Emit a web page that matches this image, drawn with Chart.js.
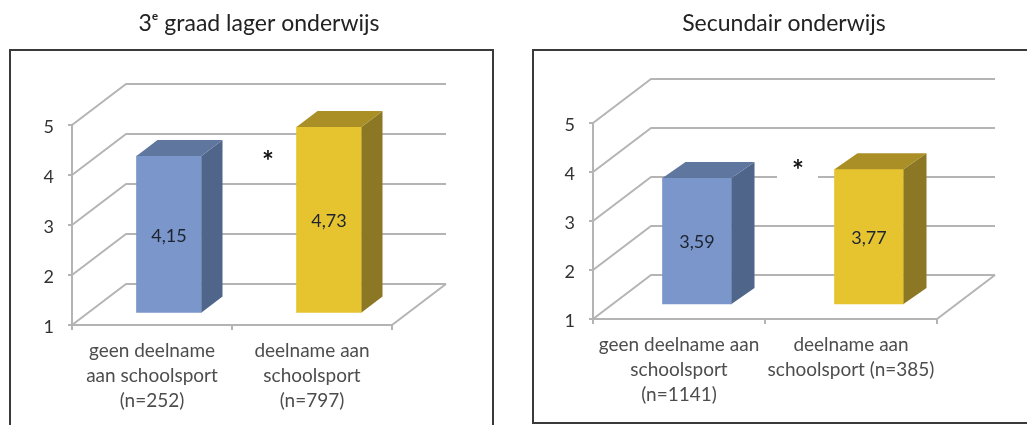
<!DOCTYPE html>
<html>
<head>
<meta charset="utf-8">
<title>Schoolsport</title>
<script src="https://cdn.jsdelivr.net/npm/chart.js@4"></script>
<style>
    html, body { margin: 0; padding: 0; background: #fff; overflow: hidden; width: 1027px; height: 425px; }
    canvas { position: absolute; top: 0; filter: blur(0.7px); }
    #chart_lager { left: 0; }
    #chart_secundair { left: 532px; }
</style>
</head>
<body>
<canvas id="chart_lager" width="518" height="425"></canvas>
<canvas id="chart_secundair" width="504" height="425"></canvas>
<script>
const titleLager = "3ᵉ graad lager onderwijs";
const titleSecundair = "Secundair onderwijs";
const categoriesLager = [["geen deelname", "aan schoolsport", "(n=252)"], ["deelname aan", "schoolsport", "(n=797)"]];
const categoriesSecundair = [["geen deelname aan", "schoolsport", "(n=1141)"], ["deelname aan", "schoolsport (n=385)"]];
const valuesLager = [4.15, 4.73];
const valuesSecundair = [3.59, 3.77];
const yTicks = [1, 2, 3, 4, 5];
const significance = "*";

const FONT = "Lato, 'Open Sans', sans-serif";
const GRID = "#b4b4b4";
const front = ["#7b96cb", "#e6c430"];
const side = ["#4f6589", "#8c7724"];
const top_ = ["#5f769f", "#a98f26"];

// fake 3D: back wall, bar faces and frame, all taken from the chart's own scales
const depth3d = {
    id: "depth3d",
    afterLayout(chart) {
        // center the title over the whole canvas, the padding is only there to place the plot
        chart.titleBlock.left = 0;
        chart.titleBlock.right = chart.width;
    },
    beforeDraw(chart, args, o) {
        const ctx = chart.ctx;
        ctx.save();
        ctx.strokeStyle = "#3a3a3a";
        ctx.lineWidth = 2;
        ctx.strokeRect(o.frame[0], o.frame[1], o.frame[2], o.frame[3]);
        ctx.restore();
        // y tick labels sit a bit under their tick in the original
        chart.scales.y.getLabelItems(chart.chartArea).forEach(function (item) {
            item.options.translation[1] += 2.5;
        });
    },
    beforeDatasetsDraw(chart, args, o) {
        const ctx = chart.ctx;
        const y = chart.scales.y;
        const a = chart.chartArea;
        ctx.save();
        ctx.strokeStyle = GRID;
        ctx.lineWidth = 2;
        ctx.lineJoin = "round";
        yTicks.forEach(function (v) {
            const py = y.getPixelForValue(v);
            ctx.beginPath();
            ctx.moveTo(a.left, py);
            ctx.lineTo(a.left + o.wallX, py + o.wallY);
            ctx.lineTo(a.right + o.wallX, py + o.wallY);
            ctx.stroke();
        });
        ctx.beginPath();
        ctx.moveTo(a.right, a.bottom);
        ctx.lineTo(a.right + o.wallX, a.bottom + o.wallY);
        ctx.stroke();
        if (o.gap) {
            ctx.fillStyle = "#fff";
            ctx.fillRect(o.gap[0], o.gap[1], o.gap[2], o.gap[3]);
        }
        ctx.restore();
        ctx.save();
        ctx.translate(o.barX, o.barY);
    },
    afterDatasetsDraw(chart, args, o) {
        const ctx = chart.ctx;
        ctx.restore();
        const bars = chart.getDatasetMeta(0).data;
        bars.forEach(function (bar, i) {
            const l = bar.x - bar.width / 2 + o.barX;
            const r = bar.x + bar.width / 2 + o.barX;
            const t = bar.y + o.barY;
            const b = bar.base + o.barY;
            ctx.fillStyle = side[i];
            ctx.beginPath();
            ctx.moveTo(r, t);
            ctx.lineTo(r + o.depthX, t + o.depthY);
            ctx.lineTo(r + o.depthX, b + o.depthY);
            ctx.lineTo(r, b);
            ctx.closePath();
            ctx.fill();
            ctx.fillStyle = top_[i];
            ctx.beginPath();
            ctx.moveTo(l, t);
            ctx.lineTo(l + o.depthX, t + o.depthY);
            ctx.lineTo(r + o.depthX, t + o.depthY);
            ctx.lineTo(r, t);
            ctx.closePath();
            ctx.fill();
            ctx.fillStyle = "#1d2430";
            ctx.font = "18px " + FONT;
            ctx.textAlign = "center";
            ctx.textBaseline = "middle";
            ctx.fillText(String(chart.data.datasets[0].data[i]).replace(".", ","), (l + r) / 2, (t + b) / 2 + 1.5);
        });
        ctx.fillStyle = "#111";
        ctx.font = "bold 28px " + FONT;
        ctx.textAlign = "center";
        ctx.textBaseline = "middle";
        ctx.fillText(significance, o.star[0], o.star[1]);
    }
};

function makeChart(id, title, categories, values, g) {
    return new Chart(document.getElementById(id), {
        type: "bar",
        plugins: [depth3d],
        data: {
            labels: categories,
            datasets: [{
                data: values,
                backgroundColor: front,
                barThickness: g.barWidth,
                clip: false,
                base: 1
            }]
        },
        options: {
            responsive: false,
            animation: false,
            events: [],
            layout: { padding: { top: g.padTop, left: 0, right: g.padRight, bottom: 0 } },
            plugins: {
                legend: { display: false },
                tooltip: { enabled: false },
                title: {
                    display: true,
                    text: title,
                    color: "#222",
                    font: { family: FONT, size: 23, weight: "normal" },
                    padding: { top: 0, bottom: g.titleGap }
                },
                depth3d: g
            },
            scales: {
                y: {
                    min: 1,
                    max: 5,
                    afterFit(s) { s.width = g.axisLeft; },
                    afterBuildTicks(s) { s.ticks = yTicks.map(function (v) { return { value: v }; }); },
                    border: { color: GRID, width: 2 },
                    grid: { drawOnChartArea: false, tickLength: 4, color: GRID, lineWidth: 2 },
                    ticks: { color: "#333", font: { family: FONT, size: 18 }, padding: g.tickPad }
                },
                x: {
                    afterFit(s) { s.height = g.axisBottom; },
                    border: { color: GRID, width: 2 },
                    grid: { drawOnChartArea: false, tickLength: 5, color: GRID, lineWidth: 2 },
                    ticks: {
                        color: "#4d4d4d",
                        font: { family: FONT, size: 19, lineHeight: 1.32 },
                        padding: g.labelPad,
                        maxRotation: 0,
                        autoSkip: false
                    }
                }
            }
        }
    });
}

makeChart("chart_lager", titleLager, categoriesLager, valuesLager, {
    frame: [10, 50, 483, 400],
    padTop: 10, titleGap: 87.4, padRight: 126,
    axisLeft: 72, axisBottom: 100, tickPad: 14, labelPad: 8,
    wallX: 54, wallY: -41,
    barWidth: 65, barX: 17, barY: -11.5, depthX: 21, depthY: -16,
    star: [268, 161.5]
});
makeChart("chart_secundair", titleSecundair, categoriesSecundair, valuesSecundair, {
    frame: [1, 50, 560, 373],
    padTop: 10, titleGap: 85.4, padRight: 99,
    axisLeft: 61, axisBottom: 106, tickPad: 14, labelPad: 8,
    wallX: 58, wallY: -44,
    barWidth: 69, barX: 18, barY: -14, depthX: 23, depthY: -16,
    gap: [245, 172, 41, 9],
    star: [266, 170.5]
});
</script>
</body>
</html>
